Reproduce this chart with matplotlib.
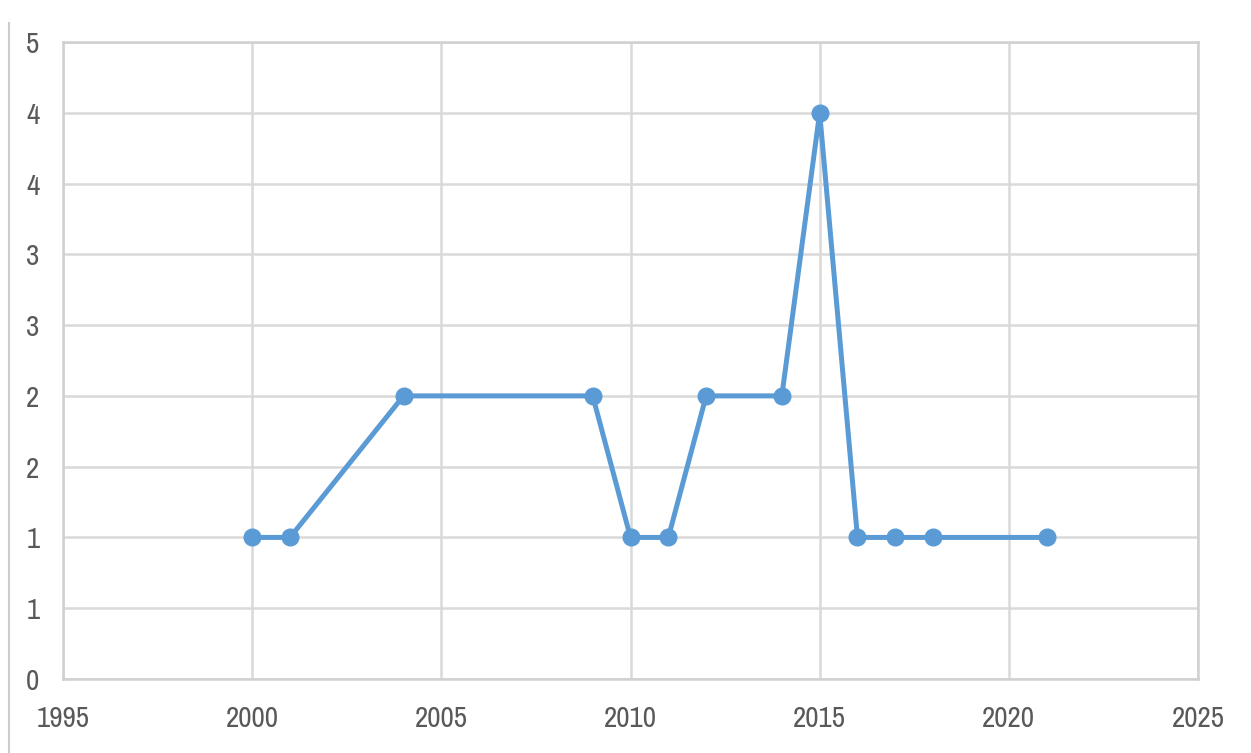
import matplotlib.pyplot as plt
from matplotlib import font_manager
from matplotlib.lines import Line2D

# Data per year
years = [2000, 2001, 2004, 2009, 2010, 2011, 2012, 2014, 2015, 2016, 2017, 2018, 2021]
counts = [1, 1, 2, 2, 1, 1, 2, 2, 4, 1, 1, 1, 1]

x_ticks = [1995, 2000, 2005, 2010, 2015, 2020, 2025]
y_ticks = [0, 0.5, 1, 1.5, 2, 2.5, 3, 3.5, 4, 4.5]
y_labels = ["0", "1", "1", "2", "2", "3", "3", "4", "4", "5"]

# pick a narrow face if one is installed
names = sorted({(f.name, f.stretch) for f in font_manager.fontManager.ttflist})
narrow = [n for n, s in names if 'Narrow' in n or 'Condensed' in n]
cond = [n for n, s in names if s in ('condensed', 'semi-condensed', 'extra-condensed', 'ultra-condensed', 75, 87, 62)]
if narrow:
    plt.rcParams['font.family'] = [narrow[0], 'DejaVu Sans']
elif cond:
    plt.rcParams['font.family'] = [cond[0], 'DejaVu Sans']
    plt.rcParams['font.stretch'] = 'condensed'
else:
    plt.rcParams['font.family'] = ['DejaVu Sans']
    plt.rcParams['font.stretch'] = 'condensed'

fig = plt.figure(figsize=(12.51, 7.53), dpi=100)
ax = fig.add_axes([0.0504, 0.0983, 0.9072, 0.8459])

ax.plot(years, counts, color='#5B9BD5', linewidth=3.6, marker='o',
        markersize=12, markerfacecolor='#5B9BD5', markeredgecolor='#5B9BD5',
        solid_joinstyle='round', zorder=3)

ax.set_xlim(1995, 2025)
ax.set_ylim(0, 4.5)
ax.set_xticks(x_ticks)
ax.set_yticks(y_ticks)
ax.set_yticklabels(y_labels)

ax.grid(True, color='#D9D9D9', linewidth=1.8)
ax.set_axisbelow(True)
for s in ax.spines.values():
    s.set_color('#D0D0D0')
    s.set_linewidth(1.8)

ax.tick_params(length=0, labelsize=21, colors='#595959')
ax.tick_params(axis='x', pad=19)
ax.tick_params(axis='y', pad=17)

# thin page border on the left
fig.add_artist(Line2D([0.0075, 0.0075], [0.0, 0.97], color='#CCCCCC', linewidth=1.5))

fig.savefig('out.png', dpi=100)
